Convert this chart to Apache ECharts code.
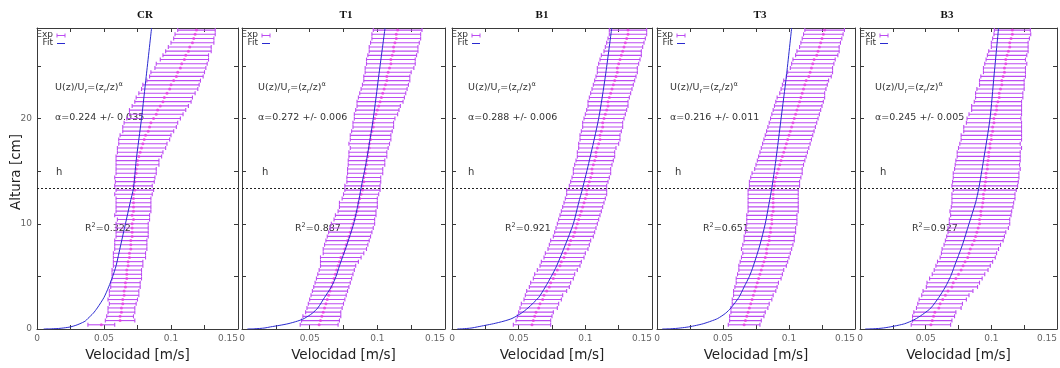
<!DOCTYPE html>
<html>
<head>
<meta charset="utf-8">
<script src="https://cdn.jsdelivr.net/npm/echarts@6/dist/echarts.min.js"></script>
<style>
  html, body { margin: 0; padding: 0; background: #fff; }
  #chart { width: 1060px; height: 368px; }
</style>
</head>
<body>
<div id="chart"></div>
<script>
// heights of the measured points [cm]
const heights = [
  0.4, 0.8, 1.2, 1.6, 2.0, 2.4, 2.8, 3.2, 3.6, 4.0,
  4.4, 4.8, 5.2, 5.6, 6.0, 6.4, 6.8, 7.2, 7.6, 8.0,
  8.4, 8.8, 9.2, 9.6, 10.0, 10.4, 10.8, 11.2, 11.6, 12.0,
  12.4, 12.8, 13.2, 13.6, 14.0, 14.4, 14.8, 15.2, 15.6, 16.0,
  16.4, 16.8, 17.2, 17.6, 18.0, 18.4, 18.8, 19.2, 19.6, 20.0,
  20.4, 20.8, 21.2, 21.6, 22.0, 22.4, 22.8, 23.2, 23.6, 24.0,
  24.4, 24.8, 25.2, 25.6, 26.0, 26.4, 26.8, 27.2, 27.6, 28.0,
  28.4
];

// mean velocity and error [m/s] for each case
const crMean = [
  0.048, 0.062, 0.062, 0.063, 0.063, 0.064, 0.064, 0.065, 0.065, 0.066,
  0.066, 0.067, 0.067, 0.067, 0.068, 0.068, 0.069, 0.069, 0.070, 0.070,
  0.070, 0.071, 0.071, 0.071, 0.071, 0.072, 0.071, 0.072, 0.072, 0.072,
  0.072, 0.072, 0.073, 0.072, 0.073, 0.073, 0.074, 0.074, 0.075, 0.075,
  0.076, 0.077, 0.078, 0.079, 0.080, 0.081, 0.083, 0.084, 0.085, 0.087,
  0.089, 0.090, 0.092, 0.094, 0.095, 0.097, 0.099, 0.100, 0.102, 0.104,
  0.105, 0.107, 0.108, 0.110, 0.111, 0.113, 0.114, 0.116, 0.117, 0.118,
  0.119
];
const crErr = [
  0.010, 0.011, 0.010, 0.010, 0.010, 0.010, 0.011, 0.011, 0.011, 0.011,
  0.011, 0.011, 0.011, 0.011, 0.011, 0.011, 0.012, 0.012, 0.012, 0.012,
  0.012, 0.012, 0.012, 0.012, 0.012, 0.012, 0.013, 0.013, 0.013, 0.013,
  0.013, 0.014, 0.014, 0.014, 0.0145, 0.015, 0.015, 0.015, 0.016, 0.016,
  0.017, 0.017, 0.018, 0.018, 0.019, 0.019, 0.019, 0.020, 0.020, 0.020,
  0.020, 0.021, 0.021, 0.021, 0.021, 0.021, 0.021, 0.021, 0.020, 0.020,
  0.020, 0.019, 0.019, 0.018, 0.017, 0.017, 0.016, 0.016, 0.015, 0.015,
  0.014
];
const t1Mean = [
  0.057, 0.058, 0.059, 0.060, 0.061, 0.062, 0.063, 0.064, 0.065, 0.066,
  0.067, 0.068, 0.069, 0.070, 0.071, 0.072, 0.073, 0.075, 0.076, 0.077,
  0.078, 0.079, 0.080, 0.081, 0.082, 0.083, 0.084, 0.085, 0.086, 0.086,
  0.087, 0.088, 0.089, 0.089, 0.090, 0.090, 0.091, 0.091, 0.092, 0.092,
  0.093, 0.093, 0.094, 0.094, 0.095, 0.095, 0.096, 0.097, 0.097, 0.098,
  0.099, 0.100, 0.101, 0.102, 0.103, 0.104, 0.105, 0.106, 0.107, 0.107,
  0.108, 0.109, 0.110, 0.110, 0.111, 0.112, 0.112, 0.113, 0.114, 0.114,
  0.115
];
const t1Err = [
  0.014, 0.014, 0.014, 0.013, 0.013, 0.013, 0.013, 0.013, 0.013, 0.013,
  0.013, 0.013, 0.013, 0.013, 0.013, 0.014, 0.015, 0.015, 0.016, 0.016,
  0.016, 0.016, 0.016, 0.016, 0.016, 0.015, 0.015, 0.014, 0.014, 0.014,
  0.013, 0.013, 0.013, 0.013, 0.0125, 0.0125, 0.013, 0.013, 0.0135, 0.0135,
  0.014, 0.014, 0.014, 0.015, 0.015, 0.015, 0.015, 0.015, 0.015, 0.015,
  0.016, 0.016, 0.016, 0.017, 0.017, 0.017, 0.017, 0.017, 0.017, 0.017,
  0.017, 0.018, 0.018, 0.018, 0.018, 0.018, 0.018, 0.018, 0.018, 0.018,
  0.018
];
const b1Mean = [
  0.060, 0.061, 0.062, 0.063, 0.065, 0.066, 0.068, 0.069, 0.071, 0.073,
  0.074, 0.076, 0.077, 0.079, 0.081, 0.082, 0.084, 0.085, 0.087, 0.088,
  0.089, 0.091, 0.092, 0.093, 0.094, 0.095, 0.096, 0.097, 0.098, 0.099,
  0.100, 0.101, 0.101, 0.102, 0.103, 0.104, 0.105, 0.105, 0.106, 0.107,
  0.108, 0.108, 0.109, 0.110, 0.111, 0.111, 0.112, 0.113, 0.113, 0.114,
  0.115, 0.116, 0.117, 0.117, 0.118, 0.119, 0.120, 0.121, 0.122, 0.123,
  0.124, 0.124, 0.125, 0.126, 0.127, 0.128, 0.129, 0.130, 0.131, 0.132,
  0.132
];
const b1Err = [
  0.014, 0.013, 0.013, 0.013, 0.014, 0.014, 0.014, 0.014, 0.015, 0.015,
  0.015, 0.015, 0.015, 0.015, 0.015, 0.015, 0.015, 0.015, 0.015, 0.015,
  0.015, 0.015, 0.015, 0.015, 0.015, 0.015, 0.015, 0.015, 0.015, 0.015,
  0.015, 0.015, 0.015, 0.014, 0.014, 0.014, 0.014, 0.014, 0.014, 0.014,
  0.014, 0.014, 0.014, 0.015, 0.015, 0.015, 0.015, 0.015, 0.015, 0.015,
  0.015, 0.015, 0.015, 0.015, 0.015, 0.015, 0.015, 0.015, 0.015, 0.015,
  0.015, 0.015, 0.015, 0.015, 0.015, 0.014, 0.014, 0.014, 0.014, 0.014,
  0.014
];
const t3Mean = [
  0.066, 0.067, 0.068, 0.069, 0.070, 0.071, 0.072, 0.073, 0.074, 0.075,
  0.076, 0.077, 0.078, 0.079, 0.080, 0.081, 0.082, 0.083, 0.083, 0.084,
  0.085, 0.085, 0.086, 0.086, 0.087, 0.087, 0.087, 0.088, 0.088, 0.088,
  0.088, 0.088, 0.088, 0.089, 0.089, 0.090, 0.091, 0.092, 0.093, 0.094,
  0.095, 0.096, 0.097, 0.098, 0.099, 0.100, 0.101, 0.102, 0.103, 0.104,
  0.105, 0.106, 0.107, 0.108, 0.109, 0.110, 0.111, 0.112, 0.113, 0.115,
  0.116, 0.117, 0.118, 0.119, 0.121, 0.122, 0.123, 0.124, 0.125, 0.126,
  0.127
];
const t3Err = [
  0.012, 0.012, 0.013, 0.013, 0.014, 0.014, 0.015, 0.015, 0.016, 0.016,
  0.016, 0.017, 0.017, 0.017, 0.018, 0.018, 0.018, 0.018, 0.019, 0.019,
  0.019, 0.019, 0.019, 0.019, 0.019, 0.019, 0.019, 0.019, 0.019, 0.019,
  0.019, 0.019, 0.019, 0.019, 0.019, 0.019, 0.019, 0.018, 0.018, 0.018,
  0.018, 0.018, 0.018, 0.018, 0.018, 0.018, 0.018, 0.018, 0.018, 0.018,
  0.018, 0.018, 0.018, 0.018, 0.018, 0.017, 0.017, 0.017, 0.017, 0.017,
  0.017, 0.016, 0.016, 0.016, 0.016, 0.016, 0.015, 0.015, 0.015, 0.015,
  0.015
];
const b3Mean = [
  0.054, 0.055, 0.056, 0.057, 0.060, 0.061, 0.063, 0.065, 0.067, 0.070,
  0.071, 0.073, 0.075, 0.077, 0.0785, 0.080, 0.082, 0.083, 0.084, 0.0855,
  0.087, 0.088, 0.089, 0.090, 0.091, 0.091, 0.092, 0.092, 0.093, 0.0935,
  0.094, 0.094, 0.095, 0.095, 0.0955, 0.096, 0.096, 0.097, 0.097, 0.0975,
  0.098, 0.098, 0.099, 0.099, 0.100, 0.100, 0.101, 0.101, 0.102, 0.102,
  0.103, 0.104, 0.104, 0.105, 0.106, 0.106, 0.107, 0.108, 0.108, 0.109,
  0.110, 0.110, 0.111, 0.111, 0.112, 0.113, 0.114, 0.114, 0.115, 0.116,
  0.116
];
const b3Err = [
  0.015, 0.015, 0.016, 0.016, 0.017, 0.017, 0.018, 0.018, 0.019, 0.0195,
  0.020, 0.020, 0.020, 0.0205, 0.0207, 0.021, 0.021, 0.021, 0.0215, 0.0215,
  0.022, 0.022, 0.022, 0.023, 0.023, 0.023, 0.023, 0.0235, 0.0235, 0.0235,
  0.024, 0.024, 0.024, 0.025, 0.025, 0.025, 0.025, 0.025, 0.0245, 0.0245,
  0.024, 0.024, 0.024, 0.023, 0.023, 0.023, 0.022, 0.022, 0.021, 0.0205,
  0.020, 0.019, 0.019, 0.018, 0.018, 0.018, 0.018, 0.017, 0.017, 0.017,
  0.016, 0.016, 0.016, 0.015, 0.015, 0.015, 0.014, 0.014, 0.014, 0.014,
  0.0137
];

// fitted power-law curves, read at these heights [cm]
const fitHeights = [0, 0.02, 0.05, 0.1, 0.2, 0.35, 0.5, 0.75, 1, 1.5, 2, 3, 4, 5, 6, 8, 10, 12, 13.4, 16, 20, 24, 28.6];
const crFit = [0.005, 0.011, 0.016, 0.020, 0.025, 0.029, 0.032, 0.036, 0.038, 0.042, 0.045, 0.050, 0.0535, 0.0565, 0.059, 0.0625, 0.066, 0.0695, 0.072, 0.074, 0.078, 0.0815, 0.0855];
const t1Fit = [0.004, 0.009, 0.013, 0.017, 0.021, 0.028, 0.034, 0.041, 0.046, 0.052, 0.056, 0.061, 0.066, 0.0695, 0.072, 0.0775, 0.0825, 0.086, 0.088, 0.092, 0.097, 0.101, 0.1057];
const b1Fit = [0.004, 0.008, 0.011, 0.015, 0.019, 0.025, 0.031, 0.039, 0.045, 0.052, 0.057, 0.065, 0.070, 0.0745, 0.0785, 0.085, 0.091, 0.095, 0.098, 0.103, 0.110, 0.115, 0.1198];
const t3Fit = [0.004, 0.010, 0.014, 0.018, 0.024, 0.030, 0.035, 0.041, 0.046, 0.052, 0.056, 0.062, 0.066, 0.070, 0.073, 0.078, 0.082, 0.085, 0.087, 0.090, 0.094, 0.098, 0.102];
const b3Fit = [0.004, 0.010, 0.014, 0.018, 0.023, 0.029, 0.034, 0.039, 0.043, 0.049, 0.054, 0.060, 0.065, 0.069, 0.072, 0.078, 0.083, 0.088, 0.0905, 0.094, 0.099, 0.102, 0.1055];

const caseNames = ["CR", "T1", "B1", "T3", "B3"];
const alphaLabels = ["α=0.224 +/- 0.035", "α=0.272 +/- 0.006", "α=0.288 +/- 0.006", "α=0.216 +/- 0.011", "α=0.245 +/- 0.005"];
const r2Labels = ["0.322", "0.887", "0.921", "0.651", "0.927"];
const canopyHeight = 13.4;

const means = [crMean, t1Mean, b1Mean, t3Mean, b3Mean];
const errs = [crErr, t1Err, b1Err, t3Err, b3Err];
const fits = [crFit, t1Fit, b1Fit, t3Fit, b3Fit];

// panel layout (px)
const lefts = [37, 242, 452, 657, 860];
const widths = [201, 203, 200, 198, 199];
const titleX = [140, 341, 537, 755, 942];
const formulaDx = [18, 16, 16, 13, 15];
const hDx = [19, 20, 16, 18, 20];
const r2Dx = [48, 53, 53, 46, 52];
const TOP = 28, BOTTOM = 329;

const barColor = "#bc4cf2";
const dotColor = "#e83ce0";
const fitColor = "#2a2ad0";
const frameColor = "#3a3a3a";
const font = "DejaVu Sans";

const chart = echarts.init(document.getElementById("chart"));

const grids = [], xAxes = [], yAxes = [], series = [], titles = [], graphics = [];

const textRich = {
    n: {fontSize: 9.5, fontFamily: font, fill: "#333", lineHeight: 14},
    s: {fontSize: 6.5, fontFamily: font, fill: "#333", lineHeight: 7, verticalAlign: "bottom"},
    p: {fontSize: 6.5, fontFamily: font, fill: "#333", lineHeight: 7, verticalAlign: "top"}
};

function barStyle() {
    return {stroke: barColor, lineWidth: 1.1, fill: null};
}

for (let i = 0; i < 5; i++) {
    const L = lefts[i];
    grids.push({left: L, top: TOP, width: widths[i], height: BOTTOM - TOP});

    const xBase = {
        gridIndex: i, type: "value", min: 0, max: 0.15, interval: 0.025,
        splitLine: {show: false},
        axisLine: {show: true, onZero: false, lineStyle: {color: frameColor, width: 1}},
        axisTick: {show: true, inside: true, length: 4, lineStyle: {color: frameColor}}
    };
    xAxes.push(Object.assign({}, xBase, {
        position: "bottom",
        name: "Velocidad [m/s]",
        nameLocation: "middle",
        nameGap: 19,
        nameTextStyle: {fontFamily: font, fontSize: 13.5, color: "#222"},
        axisLabel: {
            show: true, margin: 5, fontFamily: font, fontSize: 9, color: "#666",
            alignMaxLabel: "right",
            formatter: v => (Math.round(v * 1000) % 50 === 0) ? String(+v.toFixed(2)) : ""
        }
    }));
    xAxes.push(Object.assign({}, xBase, {position: "top", axisLabel: {show: false}}));

    const yBase = {
        gridIndex: i, type: "value", min: 0, max: 28.6, interval: 5,
        splitLine: {show: false},
        axisLine: {show: true, onZero: false, lineStyle: {color: frameColor, width: 1}},
        axisTick: {show: true, inside: true, length: 4, lineStyle: {color: frameColor}}
    };
    yAxes.push(Object.assign({}, yBase, {
        position: "left",
        axisLabel: {
            show: i === 0, margin: 5, fontFamily: font, fontSize: 9, color: "#666",
            formatter: v => (v % 10 === 0) ? String(v) : ""
        }
    }));
    yAxes.push(Object.assign({}, yBase, {position: "right", axisLabel: {show: false}}));

    const mean = means[i], err = errs[i];
    series.push({
        type: "custom",
        xAxisIndex: 2 * i, yAxisIndex: 2 * i,
        clip: true,
        encode: {x: [0, 1], y: 2},
        itemStyle: {color: barColor},
        data: heights.map((z, k) => [mean[k] - err[k], mean[k] + err[k], z]),
        renderItem: (params, api) => {
            const a = api.coord([api.value(0), api.value(2)]);
            const b = api.coord([api.value(1), api.value(2)]);
            const y = a[1];
            const cap = 2;
            return {
                type: "group",
                children: [
                    {type: "line", shape: {x1: a[0], y1: y, x2: b[0], y2: y}, style: barStyle()},
                    {type: "line", shape: {x1: a[0], y1: y - cap, x2: a[0], y2: y + cap}, style: barStyle()},
                    {type: "line", shape: {x1: b[0], y1: y - cap, x2: b[0], y2: y + cap}, style: barStyle()}
                ]
            };
        },
        silent: true
    });
    series.push({
        type: "scatter",
        xAxisIndex: 2 * i, yAxisIndex: 2 * i,
        symbol: "circle", symbolSize: 3,
        itemStyle: {color: dotColor},
        data: heights.map((z, k) => [mean[k], z]),
        silent: true
    });
    series.push({
        type: "line",
        xAxisIndex: 2 * i, yAxisIndex: 2 * i,
        showSymbol: false, smooth: 0.25,
        lineStyle: {color: fitColor, width: 1},
        data: fitHeights.map((z, k) => [fits[i][k], z]),
        markLine: {
            silent: true, symbol: "none", label: {show: false},
            lineStyle: {color: "#222", width: 1, type: [2, 2]},
            data: [{yAxis: canopyHeight}]
        },
        silent: true
    });

    titles.push({
        text: caseNames[i], left: titleX[i], top: 5, textAlign: "center",
        textStyle: {fontFamily: "Liberation Serif", fontWeight: "bold", fontSize: 11, color: "#111"}
    });

    // legend
    graphics.push({type: "text", x: L + 16, y: 35, style: {text: "Exp", fontFamily: font, fontSize: 9, fill: "#333", align: "right", verticalAlign: "middle"}});
    graphics.push({type: "polyline", shape: {points: [[L + 20, 35.5], [L + 28, 35.5]]}, style: {stroke: barColor, lineWidth: 1}});
    graphics.push({type: "polyline", shape: {points: [[L + 20, 33.5], [L + 20, 37.5]]}, style: {stroke: barColor, lineWidth: 1}});
    graphics.push({type: "polyline", shape: {points: [[L + 28, 33.5], [L + 28, 37.5]]}, style: {stroke: barColor, lineWidth: 1}});
    graphics.push({type: "text", x: L + 16, y: 43, style: {text: "Fit", fontFamily: font, fontSize: 9, fill: "#333", align: "right", verticalAlign: "middle"}});
    graphics.push({type: "polyline", shape: {points: [[L + 20, 43.5], [L + 28, 43.5]]}, style: {stroke: fitColor, lineWidth: 1}});

    // annotations
    graphics.push({type: "text", x: L + formulaDx[i], y: 88, style: {
        text: "{n|U(z)/U}{s|r}{n|=(z}{s|r}{n|/z)}{p|α}", rich: textRich, verticalAlign: "middle"}});
    graphics.push({type: "text", x: L + formulaDx[i], y: 118, style: {
        text: alphaLabels[i], fontFamily: font, fontSize: 9.5, fill: "#333", verticalAlign: "middle"}});
    graphics.push({type: "text", x: L + hDx[i], y: 172, style: {
        text: "h", fontFamily: font, fontSize: 10, fill: "#333", verticalAlign: "middle"}});
    graphics.push({type: "text", x: L + r2Dx[i], y: 229, style: {
        text: "{n|R}{p|2}{n|=" + r2Labels[i] + "}", rich: textRich, verticalAlign: "middle"}});
}

graphics.push({type: "text", x: 16, y: 172, rotation: Math.PI / 2, style: {
    text: "Altura [cm]", fontFamily: font, fontSize: 13.5, fill: "#222", align: "center", verticalAlign: "middle"}});

chart.setOption({
    animation: false,
    backgroundColor: "#fff",
    title: titles,
    grid: grids,
    xAxis: xAxes,
    yAxis: yAxes,
    series: series,
    graphic: graphics
});
</script>
</body>
</html>
